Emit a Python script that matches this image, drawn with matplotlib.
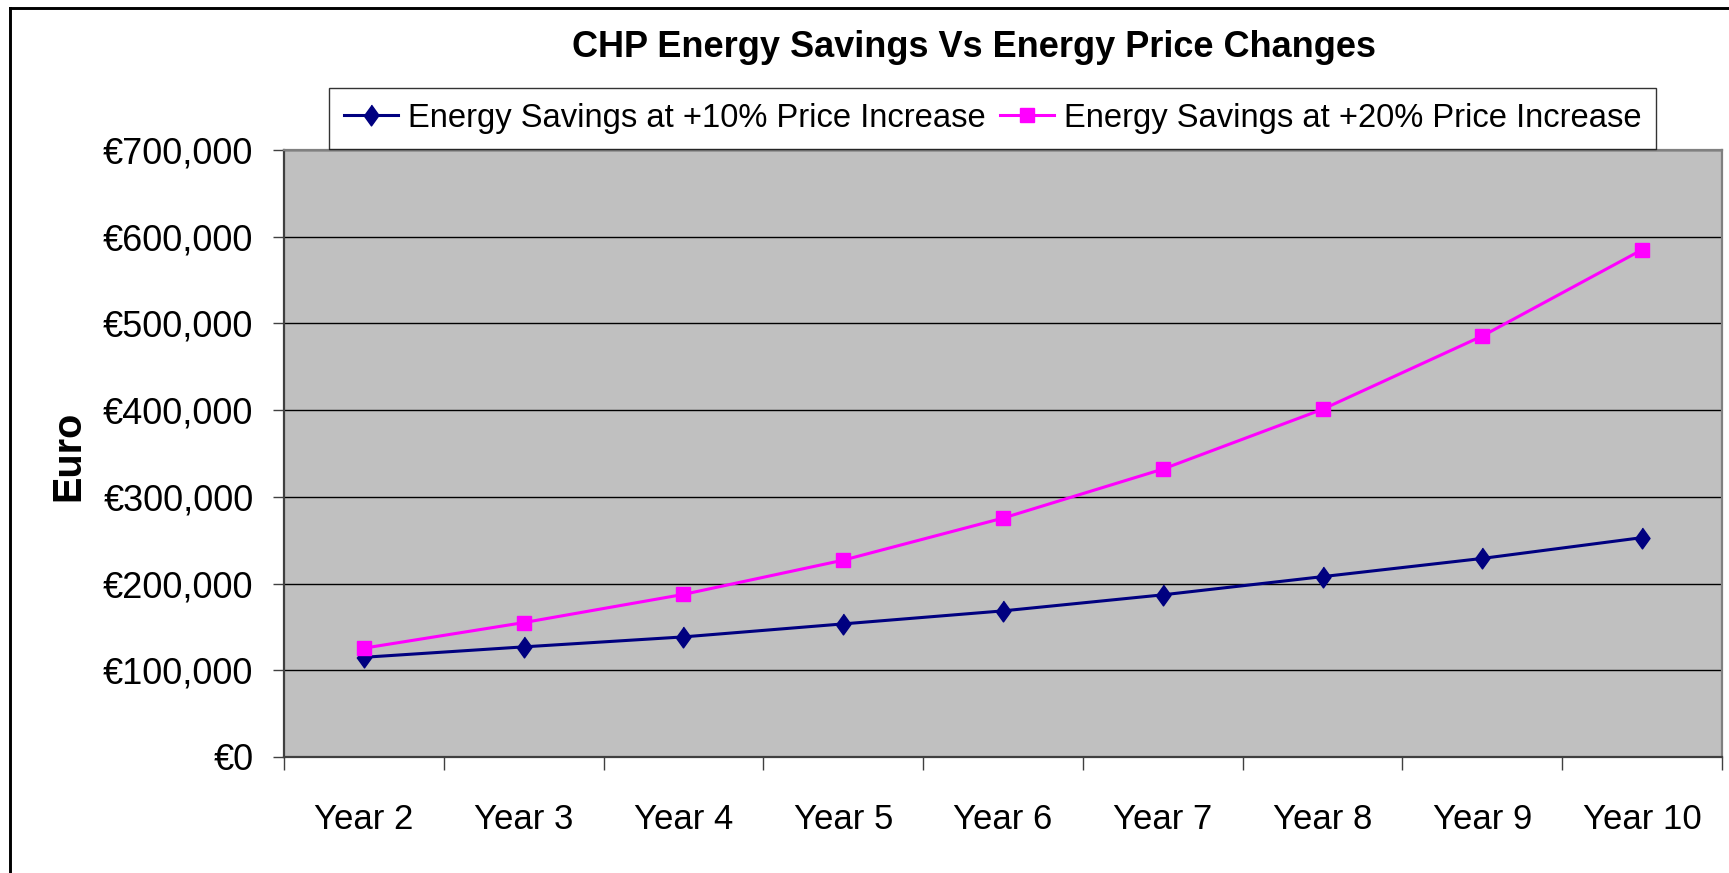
import numpy as np
import matplotlib
matplotlib.use("Agg")
import matplotlib.pyplot as plt
from matplotlib import font_manager
from matplotlib.lines import Line2D
from matplotlib.ticker import FuncFormatter, FixedLocator

# data
years = ['Year 2', 'Year 3', 'Year 4', 'Year 5', 'Year 6',
         'Year 7', 'Year 8', 'Year 9', 'Year 10']
savings_10 = [115000, 127000, 138500, 153500, 168500, 187000, 208000, 229000, 253000]
savings_20 = [125500, 155000, 187500, 227000, 275500, 332000, 401000, 485500, 585000]
label_10 = 'Energy Savings at +10% Price Increase'
label_20 = 'Energy Savings at +20% Price Increase'
title = 'CHP Energy Savings Vs Energy Price Changes'
ylabel = 'Euro'

# narrow font for ticks / title if it is there
names = {f.name for f in font_manager.fontManager.ttflist}
if 'Liberation Sans Narrow' in names:
    narrow = ['Liberation Sans Narrow', 'DejaVu Sans']
    ytick_fs, xtick_fs, title_fs = 30, 29, 31.5
else:
    narrow = ['Liberation Sans', 'DejaVu Sans']
    ytick_fs, xtick_fs, title_fs = 26, 25, 26
wide = ['Liberation Sans', 'DejaVu Sans']
plt.rcParams['font.family'] = wide

W, H = 1729, 873
fig = plt.figure(figsize=(W / 100, H / 100), dpi=100)
ax = fig.add_axes([284 / W, 1 - 757 / H, (1722 - 284) / W, (757 - 150) / H])
ax.set_facecolor('#C0C0C0')

x = np.arange(len(years))
diamond = [(0, 1), (0.72, 0), (0, -1), (-0.72, 0)]
ax.plot(x, savings_10, color='#000080', lw=2.2, marker=diamond, ms=15,
        mfc='#000080', mec='#000080', label=label_10, zorder=3)
ax.plot(x, savings_20, color='#FF00FF', lw=2.2, marker='s', ms=10.5,
        mfc='#FF00FF', mec='#FF00FF', label=label_20, zorder=3)

ax.set_xlim(-0.5, len(years) - 0.5)
ax.set_ylim(0, 700000)

# y axis
ax.set_yticks(np.arange(0, 700001, 100000))
ax.yaxis.set_major_formatter(FuncFormatter(lambda v, _: f'\u20ac{v:,.0f}'))
ax.tick_params(axis='y', length=8, width=1, color='#404040', pad=14)
ax.grid(axis='y', color='black', lw=1, zorder=1)

# x axis: labels in the middle, tick marks between categories
ax.set_xticks(x)
ax.set_xticklabels(years)
ax.xaxis.set_minor_locator(FixedLocator(np.arange(-0.5, len(years), 1.0)))
ax.tick_params(axis='x', which='major', length=0, pad=33)
ax.tick_params(axis='x', which='minor', length=9.5, width=1, color='#404040')

for lab in ax.get_yticklabels():
    lab.set_family(narrow)
    lab.set_fontsize(ytick_fs)
for lab in ax.get_xticklabels():
    lab.set_family(narrow)
    lab.set_fontsize(xtick_fs)

for side in ['top', 'right']:
    ax.spines[side].set_color('#808080')
    ax.spines[side].set_linewidth(1.6)
for side in ['left', 'bottom']:
    ax.spines[side].set_color('#404040')
    ax.spines[side].set_linewidth(1.6)

fig.text(974 / W, 1 - 57 / H, title, ha='center', va='baseline',
         fontsize=title_fs, fontweight='bold', family=narrow)
fig.text(68 / W, 1 - 456 / H, ylabel, ha='center', va='center', rotation=90,
         fontsize=28.5, fontweight='bold')

leg = fig.legend(loc='upper left', bbox_to_anchor=(329 / W, 1 - 88 / H), ncol=2,
                 fontsize=23.6, frameon=True, fancybox=False, shadow=False,
                 handlelength=1.65, handletextpad=0.3, columnspacing=0.45,
                 borderpad=0.45, borderaxespad=0)
leg.get_frame().set_edgecolor('black')
leg.get_frame().set_linewidth(1)
leg.set_zorder(5)

# outer chart frame (only left and top show)
x0, y0 = 9.5 / W, 1 - 7.5 / H
fig.add_artist(Line2D([x0, x0], [0, y0], color='black', lw=2.1, transform=fig.transFigure))
fig.add_artist(Line2D([x0, 1], [y0, y0], color='black', lw=2.1, transform=fig.transFigure))

fig.savefig('out.png', dpi=100, facecolor='white')
